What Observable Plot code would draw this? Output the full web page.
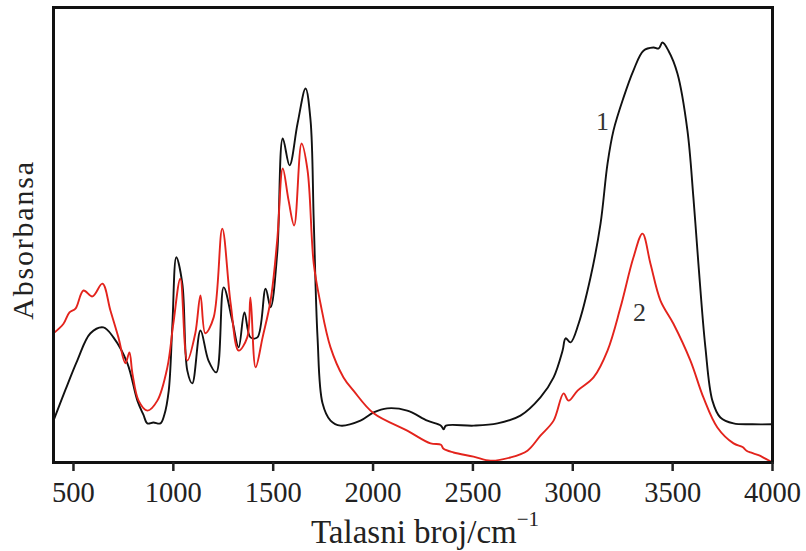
<!DOCTYPE html>
<html>
<head>
<meta charset="utf-8">
<script src="https://cdn.jsdelivr.net/npm/d3@7"></script>
<script src="https://cdn.jsdelivr.net/npm/@observablehq/plot@0.6"></script>
<style>
  html, body { margin: 0; padding: 0; background: #fff; }
  #chart svg { display: block; }
</style>
</head>
<body>
<div id="chart"></div>
<script>
// Wavenumber (cm^-1) and absorbance (arbitrary units, 0-100) for sample 1 (black)
const wnBlack = [400, 460, 519, 585, 650, 700, 770, 820, 850, 870, 900, 935, 955, 977, 995, 1015, 1045, 1070, 1095, 1136, 1176, 1215, 1252, 1295, 1327, 1356, 1386, 1421, 1462, 1487, 1520, 1548, 1582, 1622, 1662, 1687, 1703, 1722, 1747, 1787, 1837, 1937, 2003, 2071, 2171, 2272, 2340, 2353, 2365, 2503, 2623, 2738, 2838, 2904, 2949, 2964, 2989, 3029, 3089, 3139, 3174, 3204, 3254, 3304, 3354, 3404, 3430, 3449, 3479, 3524, 3574, 3604, 3629, 3664, 3699, 3739, 3805, 3900, 4000];
const absBlack = [9.2, 16.0, 22.4, 28.4, 29.7, 27.5, 21.8, 13.6, 10.5, 8.6, 8.8, 8.6, 10.5, 15.8, 30.0, 45.1, 39.3, 20.2, 17.4, 29.0, 22.4, 19.8, 38.5, 31.2, 25.3, 33.0, 27.5, 27.5, 38.2, 34.1, 45.9, 71.2, 65.3, 74.5, 82.2, 75.2, 53.2, 27.5, 13.0, 9.2, 8.1, 9.2, 11.0, 11.9, 11.4, 9.2, 8.1, 7.3, 8.1, 8.1, 8.6, 10.3, 14.3, 18.7, 24.6, 27.3, 26.4, 30.5, 40.7, 52.5, 65.7, 73.0, 80.2, 86.2, 90.5, 91.2, 91.0, 92.3, 90.5, 85.5, 73.0, 58.2, 43.7, 25.3, 13.6, 9.9, 8.6, 8.4, 8.4];

// Sample 2 (red)
const wnRed = [400, 450, 480, 510, 550, 595, 645, 685, 725, 760, 780, 795, 826, 870, 920, 970, 1000, 1035, 1070, 1110, 1136, 1160, 1202, 1245, 1287, 1327, 1370, 1386, 1412, 1447, 1487, 1520, 1548, 1577, 1605, 1642, 1672, 1703, 1737, 1787, 1852, 1902, 2003, 2171, 2288, 2340, 2353, 2403, 2503, 2588, 2688, 2773, 2838, 2904, 2954, 2979, 3024, 3104, 3174, 3239, 3304, 3349, 3389, 3439, 3504, 3589, 3654, 3724, 3805, 3850, 3870, 3890, 3930, 3950, 3975, 4000];
const absRed = [28.4, 30.5, 33.0, 33.8, 37.8, 36.5, 39.3, 33.4, 27.5, 21.8, 24.2, 19.6, 13.6, 11.4, 13.6, 20.9, 30.5, 40.4, 22.4, 28.4, 36.7, 28.4, 31.9, 51.4, 34.9, 24.6, 27.5, 36.3, 20.9, 27.5, 35.6, 48.8, 64.6, 57.6, 52.1, 70.1, 64.2, 43.7, 34.9, 25.3, 18.7, 15.8, 10.8, 7.0, 4.2, 3.9, 3.0, 2.2, 1.3, 0.4, 1.1, 2.6, 5.9, 9.2, 15.2, 13.6, 15.8, 18.7, 24.6, 34.1, 45.1, 50.3, 43.7, 35.6, 30.5, 22.4, 14.3, 7.7, 4.2, 3.4, 2.6, 2.2, 1.6, 1.2, 0.6, 0];

const xTicks = [500, 1000, 1500, 2000, 2500, 3000, 3500, 4000];
const curveLabels = ["1", "2"];
const labelWn = [3149, 3334];
const labelAbs = [73, 31.2];

const black = wnBlack.map((x, i) => ({x, y: absBlack[i]}));
const red = wnRed.map((x, i) => ({x, y: absRed[i]}));
const labels = curveLabels.map((t, i) => ({t, x: labelWn[i], y: labelAbs[i]}));

const FONT = "'Liberation Serif', 'Times New Roman', serif";

const plot = Plot.plot({
  width: 806,
  height: 551,
  marginLeft: 53,
  marginRight: 34,
  marginTop: 7,
  marginBottom: 89,
  style: {fontFamily: FONT, background: "#fff"},
  x: {domain: [400, 4000]},
  y: {domain: [0, 100], axis: null},
  marks: [
    Plot.line(black, {x: "x", y: "y", stroke: "#111", strokeWidth: 1.9, curve: "catmull-rom"}),
    Plot.line(red, {x: "x", y: "y", stroke: "#e3231c", strokeWidth: 1.9, curve: "catmull-rom"}),
    Plot.text(labels, {x: "x", y: "y", text: "t", fontSize: 26, fill: "#333", textAnchor: "middle", lineAnchor: "bottom"}),
    Plot.frame({stroke: "#111", strokeWidth: 3}),
    Plot.axisX({ticks: xTicks, tickSize: 9, tickPadding: 10, tickFormat: d => String(d), fontSize: 28.5, label: null, strokeWidth: 2.5, color: "#222"})
  ]
});

document.getElementById("chart").appendChild(plot);

const svg = d3.select(plot);
const xt = svg.append("text")
  .attr("x", 311)
  .attr("y", 543)
  .attr("text-anchor", "start")
  .attr("font-family", FONT)
  .attr("font-size", 33)
  .attr("fill", "#222");
xt.append("tspan").text("Talasni broj/cm");
xt.append("tspan").attr("font-size", 21).attr("dy", -17).text("\u22121");

svg.append("text")
  .attr("transform", "translate(33,240) rotate(-90)")
  .attr("text-anchor", "middle")
  .attr("font-family", FONT)
  .attr("font-size", 30)
  .attr("letter-spacing", 1.8)
  .attr("fill", "#222")
  .text("Absorbansa");
</script>
</body>
</html>
